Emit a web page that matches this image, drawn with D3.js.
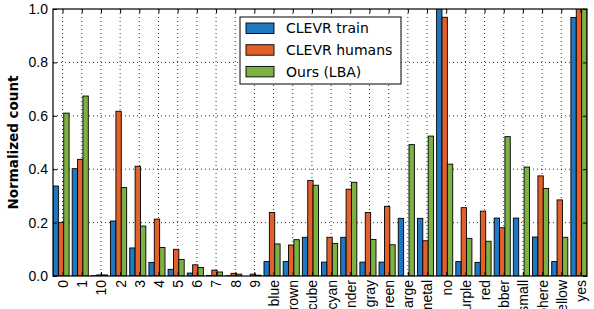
<!DOCTYPE html>
<html>
<head>
<meta charset="utf-8">
<script src="https://cdn.jsdelivr.net/npm/d3@7"></script>
<style>
  body { margin: 0; background: #fff; }
  svg { font-family: "DejaVu Sans", sans-serif; }
</style>
</head>
<body>
<div id="chart"></div>
<script>
// categories (x) and series
const categories = ["0", "1", "10", "2", "3", "4", "5", "6", "7", "8", "9",
  "blue", "brown", "cube", "cyan", "cylinder", "gray", "green", "large", "metal",
  "no", "purple", "red", "rubber", "small", "sphere", "yellow", "yes"];
const seriesNames = ["CLEVR train", "CLEVR humans", "Ours (LBA)"];
const clevrTrain = [0.337, 0.402, 0.001, 0.206, 0.105, 0.051, 0.025, 0.011, 0.002, 0.001, 0.0,
  0.054, 0.054, 0.145, 0.052, 0.145, 0.052, 0.052, 0.216, 0.216,
  1.05, 0.054, 0.051, 0.217, 0.217, 0.146, 0.054, 0.968];
const clevrHumans = [0.201, 0.437, 0.004, 0.617, 0.411, 0.213, 0.100, 0.042, 0.022, 0.010, 0.007,
  0.238, 0.116, 0.358, 0.145, 0.325, 0.238, 0.261, 0.0, 0.132,
  0.969, 0.256, 0.243, 0.181, 0.0, 0.375, 0.285, 1.05];
const oursLBA = [0.610, 0.674, 0.004, 0.331, 0.187, 0.107, 0.062, 0.032, 0.015, 0.007, 0.003,
  0.120, 0.136, 0.340, 0.122, 0.351, 0.137, 0.117, 0.492, 0.524,
  0.419, 0.141, 0.130, 0.522, 0.408, 0.328, 0.145, 1.05];
const yTicks = [0, 0.2, 0.4, 0.6, 0.8, 1.0];
const colors = ["#1f78c1", "#e2612b", "#7db143"];

const allSeries = [clevrTrain, clevrHumans, oursLBA];

// dimensioner
let margin = { top: 9, right: 7, bottom: 33, left: 53 },
  width = 594 - margin.left - margin.right,
  height = 309 - margin.top - margin.bottom;

let svg = d3.select("#chart").append("svg")
  .attr("width", 594).attr("height", 309)
  .append("g")
  .attr("transform", "translate(" + margin.left + "," + margin.top + ")");

// skalaer
let x0 = d3.scaleBand().domain(categories).range([0, width])
  .paddingInner(0.16).paddingOuter(0).align(0);
let x1 = d3.scaleBand().domain(seriesNames).range([0, x0.bandwidth()]);
// ticks sidder halvvejs i hvert step
let xt = d3.scalePoint().domain(categories)
  .range([x0.step() * 0.5, x0.step() * 0.5 + x0.step() * (categories.length - 1)]);
let y = d3.scaleLinear().domain([0, 1]).range([height, 0]);

// grid
let grid = svg.append("g").attr("stroke", "#000").attr("stroke-width", 0.8)
  .attr("stroke-dasharray", "1,3");
grid.selectAll(".gx").data(categories).enter().append("line")
  .attr("x1", d => xt(d)).attr("x2", d => xt(d))
  .attr("y1", 0).attr("y2", height);
grid.selectAll(".gy").data(yTicks.slice(1, -1)).enter().append("line")
  .attr("x1", 0).attr("x2", width)
  .attr("y1", d => y(d)).attr("y2", d => y(d));

// bars
svg.append("clipPath").attr("id", "clip").append("rect")
  .attr("width", width).attr("height", height);

let rows = categories.map((c, i) => ({ cat: c, vals: allSeries.map((s, j) => ({ name: seriesNames[j], v: s[i], k: j })) }));

svg.append("g").attr("clip-path", "url(#clip)")
  .selectAll("g").data(rows).enter().append("g")
  .attr("transform", d => "translate(" + x0(d.cat) + ",0)")
  .selectAll("rect").data(d => d.vals).enter().append("rect")
  .attr("x", d => x1(d.name))
  .attr("y", d => y(d.v))
  .attr("width", x1.bandwidth())
  .attr("height", d => height - y(d.v))
  .attr("fill", d => colors[d.k])
  .attr("stroke", "#000")
  .attr("stroke-width", 0.9);

// akser
let fmt = d3.format(".1f");
let yAxis = svg.append("g")
  .call(d3.axisLeft(y).tickValues(yTicks).tickFormat(fmt).tickSizeInner(-4).tickSizeOuter(0).tickPadding(5));
yAxis.selectAll("text").style("font-size", "14px").attr("fill", "#000");

svg.append("g").attr("transform", "translate(" + width + ",0)")
  .call(d3.axisRight(y).tickValues(yTicks).tickFormat("").tickSizeInner(-4).tickSizeOuter(0));

let xAxis = svg.append("g").attr("transform", "translate(0," + height + ")")
  .call(d3.axisBottom(xt).tickSizeInner(-4).tickSizeOuter(0).tickPadding(4));
xAxis.selectAll("text")
  .style("font-size", "14px").attr("fill", "#000")
  .attr("transform", "rotate(-90)")
  .attr("text-anchor", "end")
  .attr("x", -4).attr("y", 0).attr("dy", "0.35em");

svg.append("g")
  .call(d3.axisTop(xt).tickFormat("").tickSizeInner(-4).tickSizeOuter(0));

svg.selectAll(".domain").remove();
svg.selectAll(".tick line").attr("stroke", "#000");

svg.append("rect").attr("width", width).attr("height", height)
  .attr("fill", "none").attr("stroke", "#000").attr("stroke-width", 1.2);

// y label
svg.append("text")
  .attr("transform", "translate(" + (-35) + "," + (height / 2) + ") rotate(-90)")
  .attr("text-anchor", "middle")
  .style("font-size", "13.5px").style("font-weight", "bold")
  .text("Normalized count");

// legend
let lg = svg.append("g").attr("transform", "translate(" + (240 - margin.left) + "," + (17 - margin.top) + ")");
lg.append("rect").attr("width", 161).attr("height", 67)
  .attr("fill", "#fff").attr("stroke", "#000").attr("stroke-width", 1);
seriesNames.forEach((n, i) => {
  lg.append("rect").attr("x", 6).attr("y", 6 + i * 21.7)
    .attr("width", 28).attr("height", 10.5)
    .attr("fill", colors[i]).attr("stroke", "#000").attr("stroke-width", 0.9);
  lg.append("text").attr("x", 46).attr("y", 11.5 + i * 21.7).attr("dy", "0.35em")
    .style("font-size", "14px").text(n);
});
</script>
</body>
</html>
